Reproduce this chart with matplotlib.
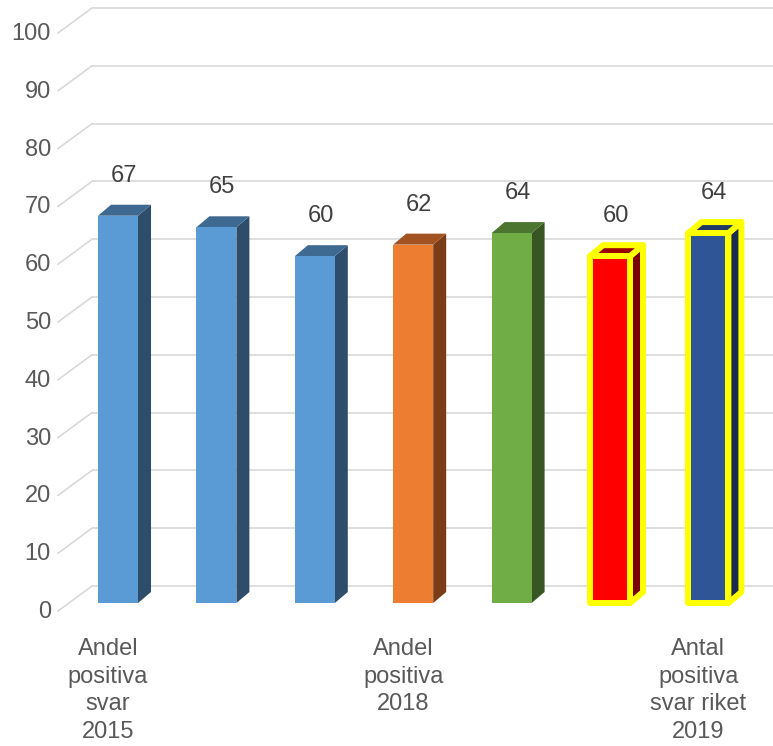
import matplotlib.pyplot as plt
from matplotlib.patches import Polygon

# data
varden = [67, 65, 60, 62, 64, 60, 64]
etiketter = ["Andel\npositiva\nsvar\n2015", "", "", "Andel\npositiva\n2018",
             "", "", "Antal\npositiva\nsvar riket\n2019"]
skala = list(range(0, 101, 10))

# colours per bar: front, side, top, edge
framsida = ["#5B9BD5", "#5B9BD5", "#5B9BD5", "#ED7D31", "#70AD47", "#FF0000", "#2F5597"]
sida = ["#2E4D6B", "#2E4D6B", "#2E4D6B", "#7A3D17", "#375623", "#7A0000", "#1A2B4F"]
topp = ["#3E6991", "#3E6991", "#3E6991", "#A35221", "#4C7530", "#9A0000", "#203864"]
kant = [None, None, None, None, None, "#FFFF00", "#FFFF00"]

plt.rcParams['font.family'] = ['Liberation Sans', 'DejaVu Sans']

# pixel scale of the chart (px per category / px per unit)
PX_X = 98.4
PX_V = 5.78

def dx(px):
    return px / PX_X

def dv(px):
    return px / PX_V

fig = plt.figure(figsize=(7.73, 7.46), dpi=100)
ax = fig.add_axes([0, 0, 1, 1])
ax.set_xlim(-118 / PX_X, (773 - 118) / PX_X)
ax.set_ylim((603 - 746) / PX_V, 603 / PX_V)
ax.axis('off')

# gridlines: back wall + diagonal on the left side wall
x_vagg = dx(-48)
for v in skala:
    ax.plot([x_vagg + dx(22), ax.get_xlim()[1]], [v + dv(17), v + dv(17)],
            color="#D9D9D9", lw=1.2, zorder=1, solid_capstyle='butt')
    ax.plot([x_vagg - dx(12), x_vagg + dx(22)], [v - dv(8), v + dv(17)],
            color="#D9D9D9", lw=1.2, zorder=1)
    ax.text(x_vagg - dx(19), v - dv(9), str(v), ha='right', va='center',
            fontsize=17, color="#595959")

# bars
halv = dx(20)
djup_x, djup_v = dx(13), dv(11)
for i, v in enumerate(varden):
    x0, x1 = i - halv, i + halv
    lw = 4.3 if kant[i] else 0
    ec = kant[i] if kant[i] else 'none'
    sidoyta = Polygon([(x1, 0), (x1, v), (x1 + djup_x, v + djup_v), (x1 + djup_x, djup_v)],
                      closed=True, fc=sida[i], ec=ec, lw=lw, zorder=3, joinstyle='round')
    toppyta = Polygon([(x0, v), (x1, v), (x1 + djup_x, v + djup_v), (x0 + djup_x, v + djup_v)],
                      closed=True, fc=topp[i], ec=ec, lw=lw, zorder=3, joinstyle='round')
    front = Polygon([(x0, 0), (x1, 0), (x1, v), (x0, v)],
                    closed=True, fc=framsida[i], ec=ec, lw=lw, zorder=4, joinstyle='round')
    ax.add_patch(sidoyta)
    ax.add_patch(toppyta)
    ax.add_patch(front)
    ax.text(i + dx(6), v + dv(40), str(v), ha='center', va='center',
            fontsize=17, color="#404040", zorder=5)
    if etiketter[i]:
        ax.text(i - dx(10), dv(-35), etiketter[i], ha='center', va='top',
                fontsize=17, color="#595959", linespacing=1.33)

fig.savefig("out.png", dpi=100)
